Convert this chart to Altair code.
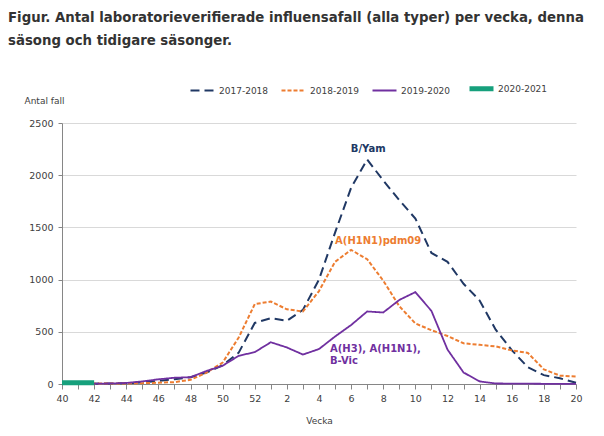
import altair as alt
import pandas as pd

weeks = [str(w) for w in range(40, 53)] + [str(w) for w in range(1, 21)]

seasons = ["2017-2018", "2018-2019", "2019-2020", "2020-2021"]

s_2017_2018 = [2, 3, 3, 5, 8, 15, 30, 45, 65, 110, 180, 300, 585,
               630, 605, 710, 1000, 1450, 1880, 2150, 1950, 1760, 1585, 1255,
               1170, 960, 800, 520, 325, 160, 85, 55, 12]
s_2018_2019 = [3, 3, 4, 5, 5, 8, 12, 18, 40, 110, 205, 445, 765,
               790, 715, 695, 890, 1170, 1285, 1195, 990, 745, 580, 515,
               460, 390, 375, 360, 322, 298, 140, 80, 72]
s_2019_2020 = [2, 2, 3, 5, 10, 25, 45, 60, 65, 125, 175, 270, 305,
               400, 350, 282, 335, 455, 565, 695, 685, 805, 880, 700,
               330, 110, 25, 5, 4, 3, 2, 2, 2]
s_2020_2021 = [12, 12, 12]

series = [s_2017_2018, s_2018_2019, s_2019_2020, s_2020_2021]

colors = ["#203864", "#ED7D31", "#7030A0", "#16A07C"]
dashes = [[9, 5], [4, 2], [1, 0], [1, 0]]
widths = [2, 2, 1.8, 5]

ann_text = ["B/Yam", "A(H1N1)pdm09", "A(H3), A(H1N1),", "B-Vic"]
ann_week = ["7", "7", "4", "4"]
ann_dx = [1, 11, 11, 11]
ann_y = [2255, 1370, 335, 225]
ann_color = ["#203864", "#ED7D31", "#7030A0", "#7030A0"]
ann_align = ["center", "center", "left", "left"]

rows = []
for name, vals in zip(seasons, series):
    for i, v in enumerate(vals):
        rows.append({"idx": i, "week": weeks[i], "value": v, "season": name})
df = pd.DataFrame(rows)

label_arr = "{" + ",".join(
    "'" + w + "':'" + (w if i % 2 == 0 else "") + "'" for i, w in enumerate(weeks)) + "}"

xscale = alt.Scale(type="point", domain=weeks, padding=0)
yscale = alt.Scale(domain=[0, 2500], nice=False)

lines = alt.Chart(df).mark_line(interpolate="linear").encode(
    x=alt.X("week:N", scale=xscale, sort=weeks,
            axis=alt.Axis(labelExpr=label_arr + "[datum.value]", labelAngle=0,
                          title="Vecka", grid=False, tickSize=5, labelPadding=4,
                          titlePadding=14, labelOverlap=False)),
    y=alt.Y("value:Q", scale=yscale,
            axis=alt.Axis(values=[0, 500, 1000, 1500, 2000, 2500], format="d", title="Antal fall",
                          titleAngle=0, titleAlign="left", titleBaseline="middle",
                          titleX=-38, titleY=-23, grid=True, tickSize=4, labelPadding=5)),
    color=alt.Color("season:N", scale=alt.Scale(domain=seasons, range=colors), title=None),
    strokeDash=alt.StrokeDash("season:N", scale=alt.Scale(domain=seasons, range=dashes), title=None),
    strokeWidth=alt.StrokeWidth("season:N",
                                scale=alt.Scale(type="ordinal", domain=seasons, range=widths),
                                title=None),
    order=alt.Order("idx:Q"),
)

texts = []
for t, wk, dx, yv, c, al in zip(ann_text, ann_week, ann_dx, ann_y, ann_color, ann_align):
    d = pd.DataFrame({"text": [t], "week": [wk], "y": [yv]})
    texts.append(alt.Chart(d).mark_text(
        align=al, baseline="middle", font="DejaVu Sans", fontWeight="bold", fontSize=10,
        color=c, dx=dx,
    ).encode(
        x=alt.X("week:N", scale=xscale, sort=weeks),
        y=alt.Y("y:Q", scale=yscale),
        text="text:N",
    ))

chart = alt.layer(lines, *texts).properties(
    width=514, height=261,
    padding={"left": 62, "top": 123, "right": 28, "bottom": 52},
    autosize=alt.AutoSizeParams(type="none"),
    title=alt.TitleParams(
        text=["Figur. Antal laboratorieverifierade influensafall (alla typer) per vecka, denna",
              "säsong och tidigare säsonger."],
        anchor="start", frame="group", dx=-54, dy=43, offset=70, lineHeight=23, baseline="top",
        font="DejaVu Sans", fontSize=13.3, fontWeight="bold", color="#333333",
    ),
).configure_view(stroke=None).configure_axis(
    labelFont="DejaVu Sans", labelFontSize=9.5, labelColor="#404040",
    titleFont="DejaVu Sans", titleFontSize=9, titleColor="#404040", titleFontWeight="normal",
    domainColor="#868686", tickColor="#868686", gridColor="#D9D9D9",
).configure_legend(
    orient="none", legendX=126, legendY=-49, direction="horizontal", columns=4,
    symbolType="stroke", symbolSize=576, labelFont="DejaVu Sans", labelFontSize=9,
    labelColor="#404040", labelOffset=2, columnPadding=8,
)

chart.save("out.html", embed_options={"renderer": "svg", "actions": False})
